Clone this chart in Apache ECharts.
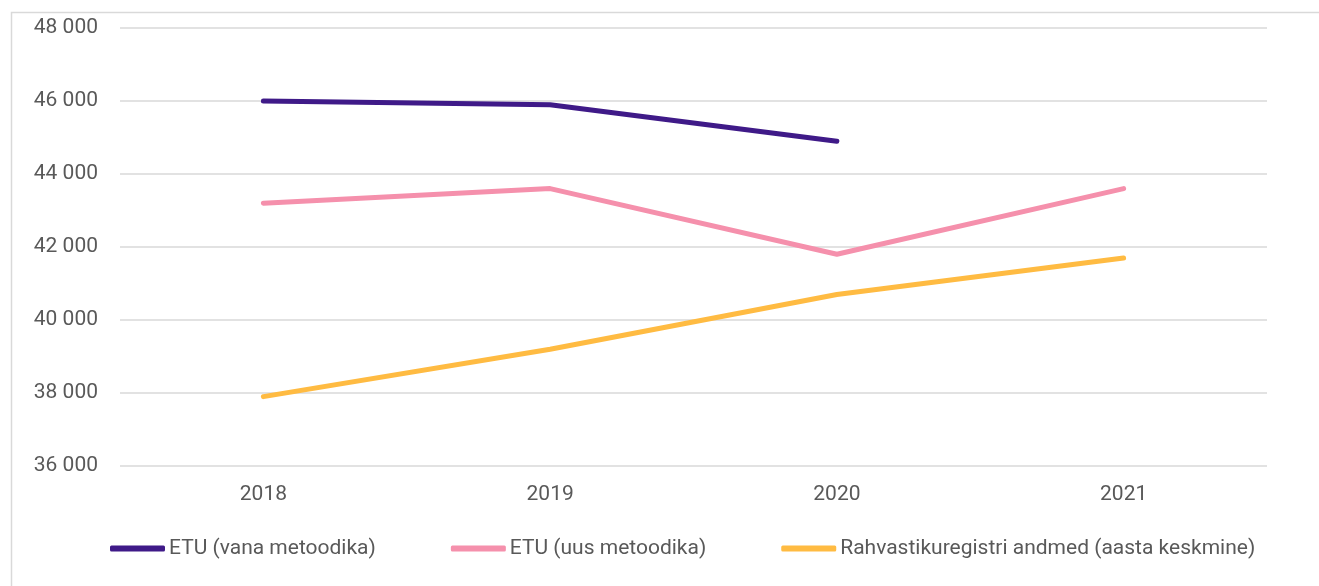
<!DOCTYPE html>
<html>
<head>
<meta charset="utf-8">
<script src="https://cdn.jsdelivr.net/npm/echarts@6/dist/echarts.min.js"></script>
<style>
  html, body { margin: 0; padding: 0; background: #fff; }
  #main { width: 1319px; height: 586px; }
</style>
</head>
<body>
<div id="main"></div>
<script>
// andmed
var years = ['2018', '2019', '2020', '2021'];
var etuVana = [46000, 45900, 44900, null];
var etuUus = [43200, 43600, 41800, 43600];
var rahvastik = [37900, 39200, 40700, 41700];
var seriesNames = ['ETU (vana metoodika)', 'ETU (uus metoodika)', 'Rahvastikuregistri andmed (aasta keskmine)'];

var textColor = '#595959';
var font = 'Roboto';

function makeLine(name, data, color) {
    return {
        name: name,
        type: 'line',
        data: data,
        symbol: 'none',
        connectNulls: false,
        lineStyle: { color: color, width: 5, cap: 'round', join: 'round' },
        itemStyle: { color: color }
    };
}

var myChart = echarts.init(document.getElementById('main'));
myChart.setOption({
    animation: false,
    textStyle: { fontFamily: font },
    graphic: [{
        type: 'rect',
        shape: { x: 11.5, y: 12.5, width: 1330, height: 620 },
        style: { fill: 'none', stroke: '#d9d9d9', lineWidth: 1.5 },
        silent: true
    }],
    grid: { left: 120, right: 52, top: 28, bottom: 120 },
    legend: {
        bottom: 22,
        left: 105,
        itemGap: 75,
        itemWidth: 55,
        itemHeight: 6,
        icon: 'roundRect',
        textStyle: { color: textColor, fontSize: 21, fontFamily: font, padding: [0, 0, 0, -1] },
        data: seriesNames
    },
    xAxis: {
        type: 'category',
        data: years,
        boundaryGap: true,
        axisLine: { show: false },
        axisTick: { show: false },
        axisLabel: { color: textColor, fontSize: 21, margin: 18 }
    },
    yAxis: {
        type: 'value',
        min: 36000,
        max: 48000,
        interval: 2000,
        axisLine: { show: false },
        axisTick: { show: false },
        axisLabel: {
            color: textColor,
            fontSize: 21,
            margin: 22,
            formatter: function (v) {
                return String(v).replace(/\B(?=(\d{3})+(?!\d))/g, ' ');
            }
        },
        splitLine: { lineStyle: { color: '#d9d9d9', width: 1.5 } }
    },
    series: [
        makeLine(seriesNames[0], etuVana, '#3f1a88'),
        makeLine(seriesNames[1], etuUus, '#f590ac'),
        makeLine(seriesNames[2], rahvastik, '#ffbb42')
    ]
});
</script>
</body>
</html>
